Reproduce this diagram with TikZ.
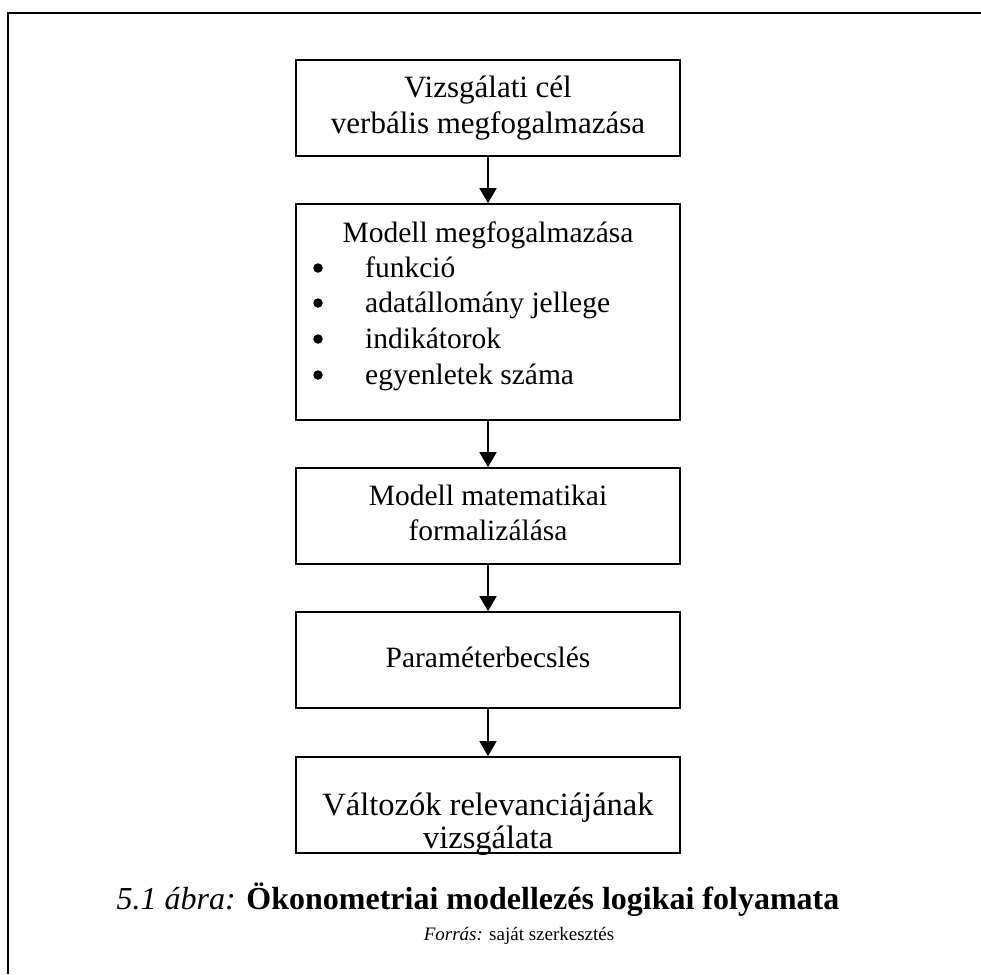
\documentclass[tikz,border=0pt]{standalone}
\usepackage{fontspec}
\setmainfont{Liberation Serif}
\usetikzlibrary{arrows.meta}
\begin{document}
\begin{tikzpicture}[x=1pt,y=-1pt,
  stepbox/.style={draw=black,line width=1.6pt},
  flow/.style={line width=1.5pt,-{Triangle[width=17pt,length=15pt]}},
  boxtext/.style={anchor=base,inner sep=0pt,font=\fontsize{29.5}{35}\selectfont},
  bigtext/.style={anchor=base,inner sep=0pt,font=\fontsize{32.5}{38}\selectfont},
  itemtext/.style={anchor=base west,inner sep=0pt,font=\fontsize{29.5}{35}\selectfont},
  itemdot/.style={circle,fill=black,inner sep=0pt,minimum size=9.5pt}]
\useasboundingbox (0,0) rectangle (981,974);
% outer frame, open towards the right and bottom
\draw[line width=2pt] (8,974) -- (8,13) -- (981,13);

% boxes of the flow
\node[stepbox,minimum width=384pt,minimum height=96pt,inner sep=0pt] (goal) at (488,108) {};
\node[stepbox,minimum width=384pt,minimum height=216pt,inner sep=0pt] (model) at (488,312) {};
\node[stepbox,minimum width=384pt,minimum height=96pt,inner sep=0pt] (formal) at (488,516) {};
\node[stepbox,minimum width=384pt,minimum height=96pt,inner sep=0pt] (estim) at (488,660) {};
\node[stepbox,minimum width=384pt,minimum height=96pt,inner sep=0pt] (relev) at (488,805) {};

% texts of the boxes
\node[boxtext,font=\fontsize{31}{36}\selectfont] (g1) at (488,97) {Vizsgálati cél};
\node[boxtext,font=\fontsize{31}{36}\selectfont] (g2) at (488,133) {verbális megfogalmazása};

\node[boxtext] (m0) at (488,242) {Modell megfogalmazása};
\foreach \y/\t [count=\i] in {277/funkció,312/adatállomány jellege,348/indikátorok,384/egyenletek száma}{
  \node[itemdot] (mb\i) at (318,\y-9) {};
  \node[itemtext] (mt\i) at (365,\y) {\t};
}

\node[boxtext] (f1) at (488,505) {Modell matematikai};
\node[boxtext] (f2) at (488,540) {formalizálása};

\node[boxtext] (e1) at (488,667) {Paraméterbecslés};

\node[bigtext] (r1) at (488,815) {Változók relevanciájának};
\node[bigtext] (r2) at (488,848) {vizsgálata};

% connectors
\draw[flow] (goal.south) -- (model.north);
\draw[flow] (model.south) -- (formal.north);
\draw[flow] (formal.south) -- (estim.north);
\draw[flow] (estim.south) -- (relev.north);

% caption
\node[anchor=base,inner sep=0pt,font=\fontsize{32}{38}\selectfont] (cap) at (478,909)
  {\textit{5.1 ábra:} \textbf{Ökonometriai modellezés logikai folyamata}};
\node[anchor=base,inner sep=0pt,font=\fontsize{19}{23}\selectfont] (src) at (519,940)
  {\textit{Forrás:} saját szerkesztés};
\end{tikzpicture}
\end{document}
